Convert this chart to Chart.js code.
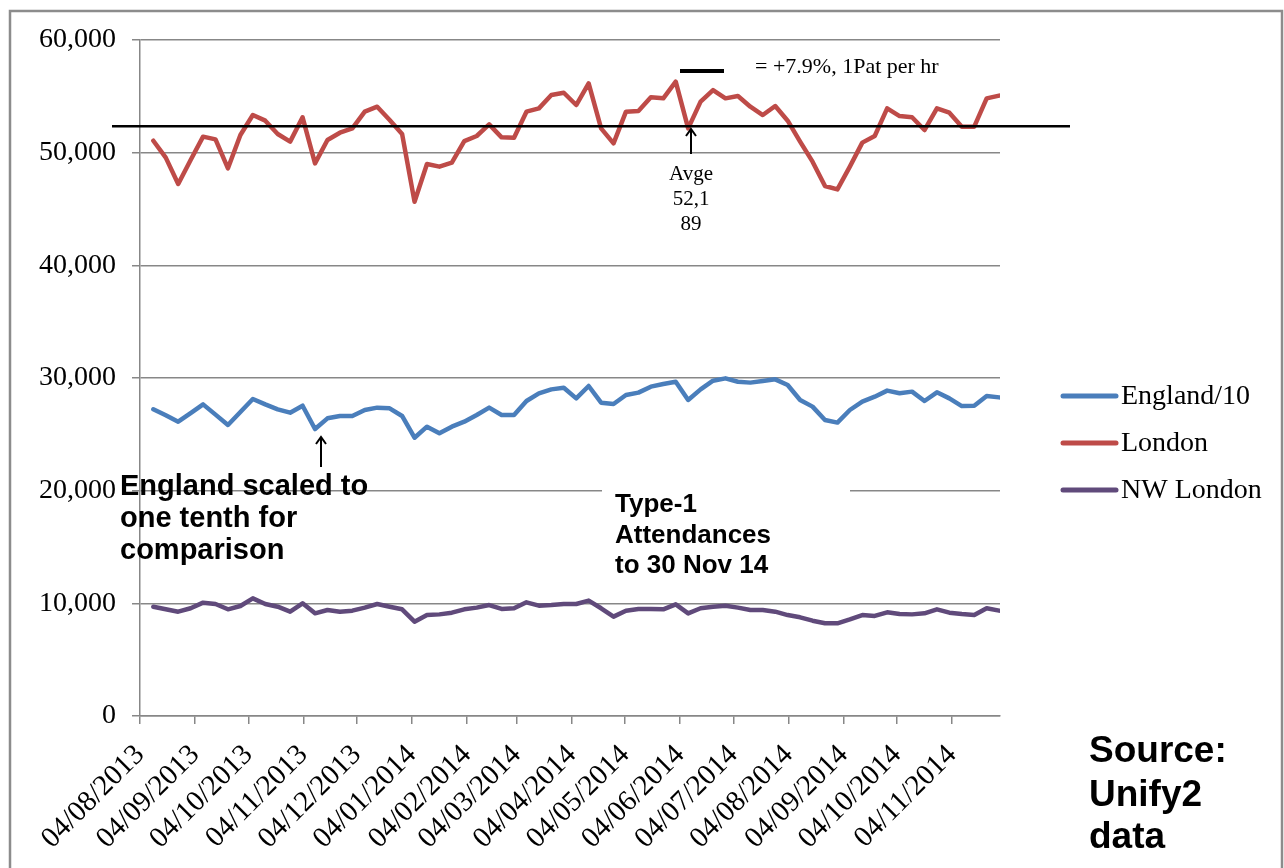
<!DOCTYPE html>
<html>
<head>
<meta charset="utf-8">
<script src="https://cdn.jsdelivr.net/npm/chart.js@4.4.1/dist/chart.umd.min.js"></script>
<style>
  html, body { margin: 0; padding: 0; background: #ffffff; }
  #c { display: block; }
</style>
</head>
<body>
<canvas id="c" width="1284" height="868"></canvas>
<script>
// ---- Data (weekly Type-1 attendances) ----
const weekEnding = [
  '11/08/2013','18/08/2013','25/08/2013','01/09/2013','08/09/2013','15/09/2013','22/09/2013','29/09/2013',
  '06/10/2013','13/10/2013','20/10/2013','27/10/2013','03/11/2013','10/11/2013','17/11/2013','24/11/2013',
  '01/12/2013','08/12/2013','15/12/2013','22/12/2013','29/12/2013',
  '05/01/2014','12/01/2014','19/01/2014','26/01/2014','02/02/2014','09/02/2014','16/02/2014','23/02/2014',
  '02/03/2014','09/03/2014','16/03/2014','23/03/2014','30/03/2014','06/04/2014','13/04/2014','20/04/2014',
  '27/04/2014','04/05/2014','11/05/2014','18/05/2014','25/05/2014','01/06/2014','08/06/2014','15/06/2014',
  '22/06/2014','29/06/2014','06/07/2014','13/07/2014','20/07/2014','27/07/2014','03/08/2014','10/08/2014',
  '17/08/2014','24/08/2014','31/08/2014','07/09/2014','14/09/2014','21/09/2014','28/09/2014','05/10/2014',
  '12/10/2014','19/10/2014','26/10/2014','02/11/2014','09/11/2014','16/11/2014','23/11/2014','30/11/2014'
];

const englandTenth = [
  27220, 26690, 26120, 26890, 27660, 26750, 25830, 26980, 28140, 27660,
  27220, 26920, 27540, 25470, 26420, 26630, 26630, 27160, 27370, 27310,
  26630, 24700, 25680, 25090, 25680, 26120, 26720, 27370, 26720, 26720,
  27960, 28640, 28990, 29140, 28190, 29290, 27810, 27690, 28490, 28700,
  29230, 29470, 29670, 28050, 28990, 29760, 29970, 29670, 29590, 29730,
  29880, 29380, 28050, 27460, 26270, 26040, 27160, 27900, 28340, 28880,
  28640, 28790, 27960, 28730, 28190, 27510, 27540, 28400, 28280
];

const london = [
  51060, 49560, 47220, 49350, 51420, 51180, 48610, 51570, 53340, 52840,
  51660, 50980, 53140, 49050, 51120, 51770, 52160, 53640, 54080, 52900,
  51660, 45650, 48990, 48760, 49110, 51030, 51480, 52510, 51360, 51330,
  53640, 53930, 55120, 55320, 54230, 56150, 52160, 50830, 53640, 53700,
  54910, 54820, 56300, 52160, 54530, 55560, 54820, 55030, 54080, 53340,
  54140, 52840, 50980, 49200, 47040, 46740, 48760, 50890, 51480, 53930,
  53250, 53140, 52010, 53930, 53550, 52310, 52310, 54820, 55060
];

const nwLondon = [
  9700, 9470, 9260, 9560, 10060, 9940, 9470, 9760, 10440, 9940,
  9700, 9260, 10000, 9110, 9410, 9260, 9350, 9620, 9940, 9700,
  9470, 8370, 8960, 9020, 9170, 9470, 9620, 9850, 9500, 9560,
  10090, 9790, 9850, 9940, 9940, 10240, 9560, 8820, 9350, 9500,
  9500, 9470, 9910, 9110, 9560, 9700, 9790, 9620, 9410, 9410,
  9260, 8960, 8760, 8460, 8230, 8230, 8580, 8960, 8880, 9200,
  9050, 9020, 9110, 9470, 9170, 9050, 8960, 9560, 9350
];

const xTickLabels = [
  '04/08/2013','04/09/2013','04/10/2013','04/11/2013','04/12/2013','04/01/2014','04/02/2014','04/03/2014',
  '04/04/2014','04/05/2014','04/06/2014','04/07/2014','04/08/2014','04/09/2014','04/10/2014','04/11/2014'
];
const axisStart = '04/08/2013';
const axisEnd = '01/12/2014';
const yTickValues = [0, 10000, 20000, 30000, 40000, 50000, 60000];
const avgLineValue = 52350;

// ---- helpers ----
function parseDMY(s) { const p = s.split('/'); return Date.UTC(+p[2], +p[1] - 1, +p[0]); }
const t0 = parseDMY(axisStart);
function dayOf(s) { return (parseDMY(s) - t0) / 86400000; }
const xs = weekEnding.map(d => dayOf(d) + 0.5);
const pts = arr => arr.map((v, i) => ({ x: xs[i], y: v }));

const SERIF = '"Liberation Serif", "DejaVu Serif", serif';
const SANS = '"Liberation Sans", Arial, sans-serif';
const GRID = '#878787';

const overlay = {
  id: 'overlay',
  afterDraw(chart) {
    const ctx = chart.ctx;
    const ys = chart.scales.y;
    ctx.save();
    // frame
    ctx.strokeStyle = '#8c8c8c';
    ctx.lineWidth = 2.5;
    ctx.strokeRect(10, 11, 1272, 900);

    // average line
    const ay = ys.getPixelForValue(avgLineValue);
    ctx.strokeStyle = '#000';
    ctx.lineWidth = 2.6;
    ctx.beginPath(); ctx.moveTo(112, ay); ctx.lineTo(1070, ay); ctx.stroke();

    // key dash
    ctx.lineWidth = 4;
    ctx.beginPath(); ctx.moveTo(680, 71); ctx.lineTo(724, 71); ctx.stroke();
    ctx.fillStyle = '#000';
    ctx.font = '22px ' + SERIF;
    ctx.textAlign = 'left'; ctx.textBaseline = 'middle';
    ctx.fillText('= +7.9%, 1Pat per hr', 755, 67);

    // arrows
    function arrowUp(x, yTip, yBase) {
      ctx.strokeStyle = '#000'; ctx.lineWidth = 2;
      ctx.beginPath(); ctx.moveTo(x, yBase); ctx.lineTo(x, yTip + 1); ctx.stroke();
      ctx.beginPath();
      ctx.moveTo(x - 5, yTip + 7); ctx.lineTo(x, yTip); ctx.lineTo(x + 5, yTip + 7); ctx.stroke();
    }
    arrowUp(691, 129, 154);
    arrowUp(321, 437, 467);

    // Avge label
    ctx.font = '21px ' + SERIF;
    ctx.textAlign = 'center';
    ctx.fillText('Avge', 691, 174);
    ctx.fillText('52,1', 691, 199);
    ctx.fillText('89', 691, 224);

    // England note
    ctx.font = 'bold 29px ' + SANS;
    ctx.textAlign = 'left';
    ctx.fillText('England scaled to', 120, 487);
    ctx.fillText('one tenth for', 120, 519);
    ctx.fillText('comparison', 120, 551);

    // Type-1 box
    ctx.fillStyle = '#fff';
    ctx.fillRect(602, 482, 248, 100);
    ctx.fillStyle = '#000';
    ctx.font = 'bold 26px ' + SANS;
    ctx.fillText('Type-1', 615, 505);
    ctx.fillText('Attendances', 615, 536);
    ctx.fillText('to 30 Nov 14', 615, 566);

    // Source
    ctx.font = 'bold 37px ' + SANS;
    ctx.fillText('Source:', 1089, 752);
    ctx.fillText('Unify2', 1089, 796);
    ctx.fillText('data', 1089, 838);

    // legend
    const legY = [396, 443, 490];
    chart.data.datasets.forEach((ds, i) => {
      ctx.strokeStyle = ds.borderColor;
      ctx.lineWidth = 5; ctx.lineCap = 'round';
      ctx.beginPath(); ctx.moveTo(1063, legY[i]); ctx.lineTo(1116, legY[i]); ctx.stroke();
      ctx.fillStyle = '#000';
      ctx.font = '28px ' + SERIF;
      ctx.textAlign = 'left'; ctx.textBaseline = 'middle';
      ctx.fillText(ds.label, 1121, legY[i] + 1);
    });
    ctx.restore();
  }
};

new Chart(document.getElementById('c'), {
  type: 'line',
  data: {
    datasets: [
      { label: 'England/10', data: pts(englandTenth), borderColor: '#4A7EBB', borderWidth: 4.5 },
      { label: 'London', data: pts(london), borderColor: '#BE4B48', borderWidth: 4.5 },
      { label: 'NW London', data: pts(nwLondon), borderColor: '#604A7B', borderWidth: 4.5 }
    ]
  },
  options: {
    responsive: false,
    animation: false,
    devicePixelRatio: 1,
    layout: { padding: { left: 0, right: 284, top: 40, bottom: 0 } },
    elements: {
      point: { radius: 0, hoverRadius: 0 },
      line: { tension: 0, borderJoinStyle: 'round', borderCapStyle: 'round', fill: false }
    },
    plugins: { legend: { display: false }, tooltip: { enabled: false } },
    scales: {
      x: {
        type: 'linear',
        min: 0,
        max: dayOf(axisEnd),
        afterBuildTicks: s => { s.ticks = xTickLabels.map(l => ({ value: dayOf(l) })); },
        afterFit: s => { s.height = 152; },
        ticks: {
          autoSkip: false,
          minRotation: 45,
          maxRotation: 45,
          padding: 14,
          color: '#000',
          font: { family: SERIF, size: 29 },
          callback: (v, i) => xTickLabels[i]
        },
        grid: { drawOnChartArea: false, drawTicks: true, tickLength: 8, color: GRID, lineWidth: 1.5 },
        border: { color: GRID, width: 1.5 }
      },
      y: {
        min: 0,
        max: 60000,
        afterBuildTicks: s => { s.ticks = yTickValues.map(v => ({ value: v })); },
        afterFit: s => { s.width = 140; },
        ticks: {
          padding: 16,
          color: '#000',
          font: { family: SERIF, size: 28 },
          callback: v => v.toLocaleString('en-GB')
        },
        grid: { color: GRID, lineWidth: 1.5, tickLength: 8 },
        border: { color: GRID, width: 1.5 }
      }
    }
  },
  plugins: [overlay]
});
</script>
</body>
</html>
